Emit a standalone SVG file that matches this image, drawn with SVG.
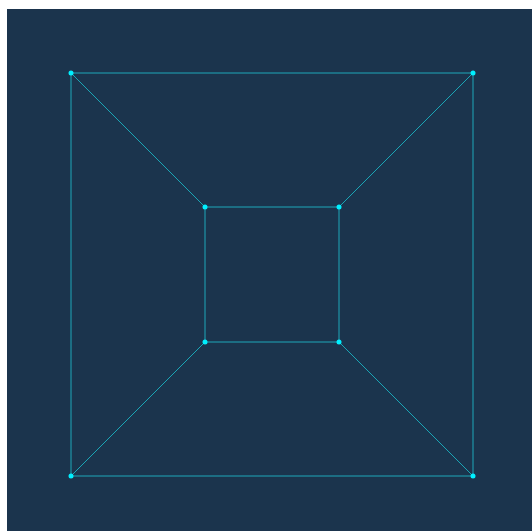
<svg xmlns="http://www.w3.org/2000/svg" width="532" height="531" viewBox="0 0 532 531">
<style>
.edge{stroke:#1fc4d4;stroke-width:1;fill:none;stroke-opacity:0.8}
.diag{stroke:#1aa5b5;stroke-width:1;fill:none}
.node{fill:#00f0ff}
</style>
<rect x="0" y="0" width="532" height="531" fill="#ffffff"/>
<rect x="7" y="9" width="525" height="522" fill="#1b344d"/>
<g id="connectors">
<line class="edge" x1="71" y1="73" x2="473" y2="73"/>
<line class="edge" x1="473" y1="73" x2="473" y2="476"/>
<line class="edge" x1="473" y1="476" x2="71" y2="476"/>
<line class="edge" x1="71" y1="476" x2="71" y2="73"/>
<line class="edge" x1="205" y1="207" x2="339" y2="207"/>
<line class="edge" x1="339" y1="207" x2="339" y2="342"/>
<line class="edge" x1="339" y1="342" x2="205" y2="342"/>
<line class="edge" x1="205" y1="342" x2="205" y2="207"/>
<line class="diag" x1="71" y1="73" x2="205" y2="207"/>
<line class="diag" x1="473" y1="73" x2="339" y2="207"/>
<line class="diag" x1="473" y1="476" x2="339" y2="342"/>
<line class="diag" x1="71" y1="476" x2="205" y2="342"/>
</g>
<g id="n1"><circle class="node" cx="71" cy="73" r="2.5"/></g>
<g id="n2"><circle class="node" cx="473" cy="73" r="2.5"/></g>
<g id="n3"><circle class="node" cx="473" cy="476" r="2.5"/></g>
<g id="n4"><circle class="node" cx="71" cy="476" r="2.5"/></g>
<g id="n5"><circle class="node" cx="205" cy="207" r="2.5"/></g>
<g id="n6"><circle class="node" cx="339" cy="207" r="2.5"/></g>
<g id="n7"><circle class="node" cx="339" cy="342" r="2.5"/></g>
<g id="n8"><circle class="node" cx="205" cy="342" r="2.5"/></g>
</svg>
